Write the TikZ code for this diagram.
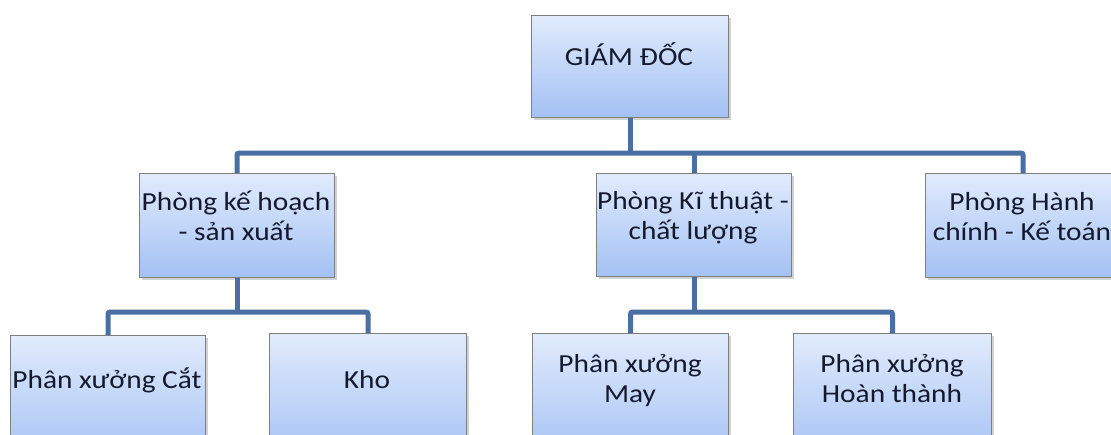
\documentclass[tikz,border=0pt]{standalone}
\usepackage{fontspec}
\setmainfont{Carlito}[FakeStretch=1.13]
\usetikzlibrary{shadows}
\definecolor{btop}{HTML}{E1EBFC}
\definecolor{bbot}{HTML}{A3C1F4}
\definecolor{bgray}{HTML}{7F7F7F}
\definecolor{conncol}{HTML}{4A6FA3}
\definecolor{txt}{HTML}{141A2E}
\tikzset{
  box/.style={draw=bgray, line width=1pt, top color=btop, bottom color=bbot,
    minimum width=195pt, minimum height=103pt, inner sep=0pt, anchor=north west,
    drop shadow={opacity=0.35, shadow xshift=2.5pt, shadow yshift=-2.5pt}},
  lowbox/.style={box, minimum height=130pt},
  lbl/.style={font=\fontsize{26}{30}\selectfont, text=txt, align=center, anchor=base, inner sep=0pt},
  conn/.style={draw=conncol, line width=5pt, rounded corners=2pt}
}
\begin{document}
\begin{tikzpicture}[x=1pt,y=-1pt]
\clip (0,0) rectangle (1111,434);
\fill[white] (0,0) rectangle (1111,434);
% boxes
\node[box, minimum width=197pt, minimum height=102pt] (gd) at (531,15) {};
\node[box, minimum height=104pt] (kh) at (139,173) {};
\node[box] (kt) at (596,173) {};
\node[box, minimum height=104pt] (hc) at (925,173) {};
\node[lowbox] (cat) at (10,335) {};
\node[lowbox, minimum width=197pt] (kho) at (269,333) {};
\node[lowbox, minimum width=196pt] (may) at (532,333) {};
\node[lowbox, minimum width=198pt] (ht) at (793,333) {};
% connectors
\coordinate (b1) at (630,153);
\coordinate (b2) at (237,312);
\coordinate (b3) at (693,312);
\draw[conn] (gd.south) -- (gd.south |- b1);
\draw[conn] (kh.north) -- (kh.north |- b1) -- (hc.north |- b1) -- (hc.north);
\draw[conn] (kt.north |- b1) -- (kt.north);
\draw[conn] (kh.south) -- (kh.south |- b2);
\draw[conn] (cat.north) -- (cat.north |- b2) -- (kho.north |- b2) -- (kho.north);
\draw[conn] (kt.south) -- (kt.south |- b3);
\draw[conn] (may.north) -- (may.north |- b3) -- (ht.north |- b3) -- (ht.north);
% labels (base = baseline of last line)
\node[lbl] (gdt) at (629,65) {GIÁM ĐỐC};
\node[lbl] (kht) at (236,240) {Phòng kế hoạch\\- sản xuất};
\node[lbl] (ktt) at (693,239) {Phòng Kĩ thuật -\\chất lượng};
\node[lbl] (hct) at (1022,240) {Phòng Hành\\chính - Kế toán};
\node[lbl] (catt) at (107,388) {Phân xưởng Cắt};
\node[lbl] (khot) at (367,388) {Kho};
\node[lbl] (mayt) at (630,402) {Phân xưởng\\May};
\node[lbl] (htt) at (892,402) {Phân xưởng\\Hoàn thành};
\end{tikzpicture}
\end{document}
